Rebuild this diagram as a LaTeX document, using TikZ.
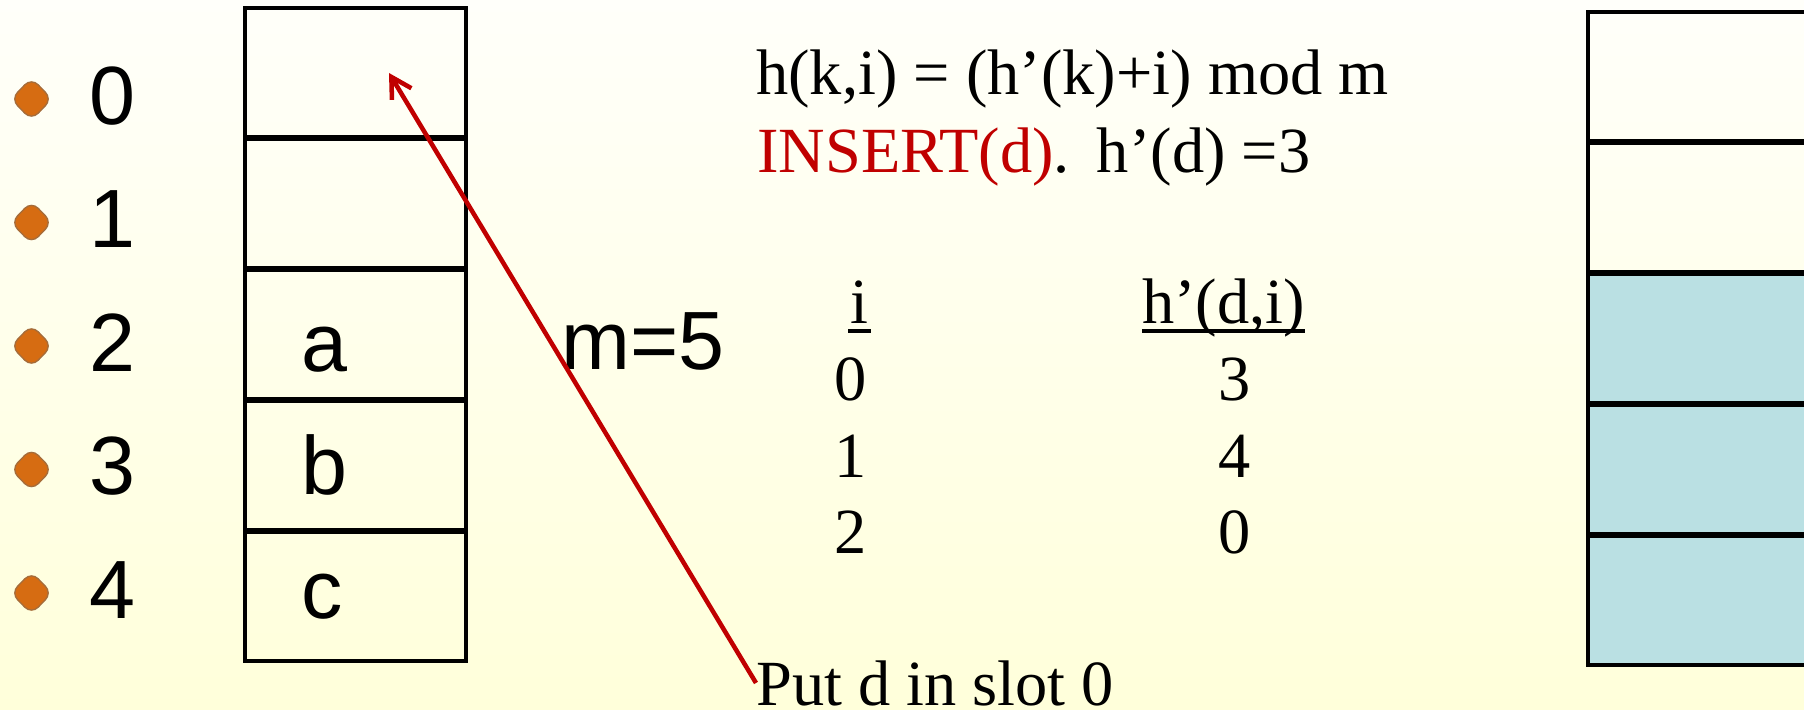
\documentclass[tikz,border=0pt]{standalone}
\usepackage{fontspec}
\setmainfont{Liberation Serif}
\newfontfamily\arialf{Liberation Sans}
\usetikzlibrary{arrows.meta}
\definecolor{bgtop}{RGB}{255,255,250}
\definecolor{bgbot}{RGB}{255,255,218}
\definecolor{slotblue}{RGB}{186,224,227}
\definecolor{insred}{RGB}{192,0,0}
\definecolor{bulletc}{RGB}{214,108,18}
\definecolor{bulletedge}{RGB}{165,108,58}
\newcommand\myul[1]{\setbox0\hbox{#1}\rlap{\vrule height -4.7pt depth 7.3pt width \wd0}\box0}
\begin{document}
\begin{tikzpicture}[x=0.75pt,y=-0.75pt,
  sansbig/.style={font=\arialf\fontsize{62}{74}\selectfont, inner sep=0pt, anchor=base west},
  serif/.style={font=\fontsize{48.3}{58}\selectfont, inner sep=0pt, anchor=base west},
  serifc/.style={font=\fontsize{48.3}{58}\selectfont, inner sep=0pt, anchor=base},
  slot/.style={draw=black, line width=2.5pt},
  rslot/.style={draw=black, line width=2.8pt},
  bul/.style={fill=bulletc, draw=bulletedge, line width=1pt, rounded corners=7pt}]
\useasboundingbox (0,0) rectangle (1804,710);
\shade[top color=bgtop, bottom color=bgbot] (0,0) rectangle (1804,710);
% bullets and index labels
\foreach \y [count=\i from 0] in {124,247.5,371,494.5,618} {
  \path[bul] (31.5,\y-46) -- (52,\y-25) -- (31.5,\y-4) -- (11,\y-25) -- cycle;
  \node[sansbig] (n\i) at (89.5,\y) {\i};
}
% left table
\foreach \t in {8,139,270,401,532}
  \draw[slot] (245,\t) rectangle (466,\t+129);
\node[sansbig] (la) at (301,371) {a};
\node[sansbig] (lb) at (301,494.5) {b};
\node[sansbig] (lc) at (301,618) {c};
\node[sansbig] (m) at (561,369) {m=5};
% right table
\foreach \t in {12,143}
  \draw[rslot] (1588,\t) rectangle (1830,\t+129);
\foreach \t in {274,405,536}
  \draw[rslot, fill=slotblue] (1588,\t) rectangle (1830,\t+129);
% formulas
\node[serif] (f1) at (756,95) {h(k,i) = (h’(k)+i) mod m};
\node[serif] (f2) at (757,172) {\textcolor{insred}{INSERT(d)}.\hspace{0.42em}h’(d) =3};
\node[serifc] (hi) at (859.5,323) {\myul{\kern1.9pt i\kern1.9pt}};
\node[serif] (hh) at (1142,323) {\myul{h’(d,i)}};
\node[serifc] (i0) at (851,400) {0};
\node[serifc] (i1) at (851,477) {1};
\node[serifc] (i2) at (851,553) {2};
\node[serifc] (v0) at (1235,400) {3};
\node[serifc] (v1) at (1235,477) {4};
\node[serifc] (v2) at (1235,553) {0};
\node[serif] (put) at (756,705) {Put d in slot 0};
\coordinate (tip) at (389,73);
\draw[insred, line width=3.4pt, -{Straight Barb[length=15pt,width=17pt]}] (put.west) -- (tip);
\end{tikzpicture}
\end{document}
